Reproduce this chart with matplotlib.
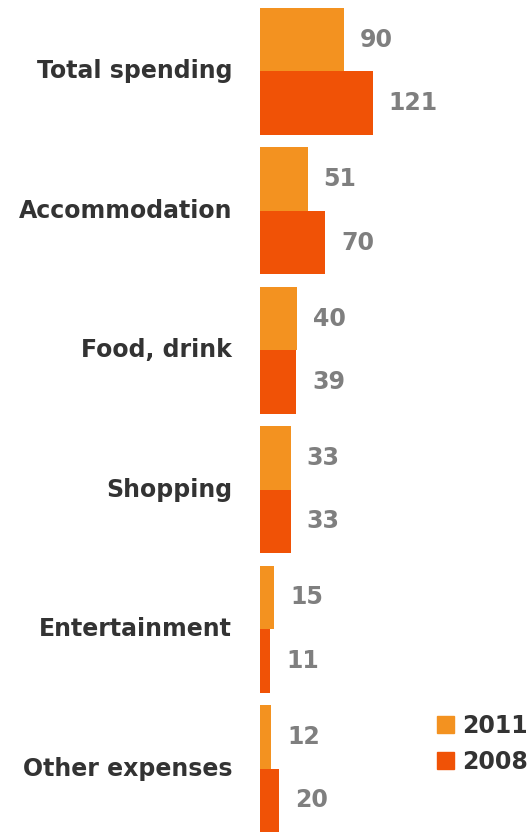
import matplotlib
matplotlib.use("Agg")
import matplotlib.pyplot as plt
from matplotlib.patches import Patch

categories = ["Total spending", "Accommodation", "Food, drink", "Shopping",
              "Entertainment", "Other expenses"]
values_2011 = [90, 51, 40, 33, 15, 12]
values_2008 = [121, 70, 39, 33, 11, 20]
series_labels = ["2011", "2008"]

color_2011 = "#F39220"
color_2008 = "#F05206"
text_dark = "#333333"
text_gray = "#7F7F7F"

W, H = 531, 832
fig = plt.figure(figsize=(W / 100, H / 100), dpi=100)
ax = fig.add_axes([260 / W, 0, 1 - 260 / W, 1])

h = 0.455
ypos = list(range(len(categories)))
y11 = [y - h / 2 for y in ypos]
y08 = [y + h / 2 for y in ypos]
ax.barh(y11, values_2011, height=h, color=color_2011, linewidth=0)
ax.barh(y08, values_2008, height=h, color=color_2008, linewidth=0)

ax.set_xlim(0, 271 / 0.933)
ax.set_ylim(len(categories) - 1 + h, -h - 8 / 139.6)
ax.axis("off")

fs = 17
for y, v in zip(y11, values_2011):
    ax.annotate(str(v), (v, y), xytext=(11.5, 0), textcoords="offset points",
                ha="left", va="center", fontsize=fs, fontweight="bold",
                color=text_gray)
for y, v in zip(y08, values_2008):
    ax.annotate(str(v), (v, y), xytext=(11.5, 0), textcoords="offset points",
                ha="left", va="center", fontsize=fs, fontweight="bold",
                color=text_gray)
for y, name in zip(ypos, categories):
    ax.annotate(name, (0, y), xytext=(-20, 0), textcoords="offset points",
                ha="right", va="center", fontsize=fs, fontweight="bold",
                color=text_dark)

handles = [Patch(color=color_2011), Patch(color=color_2008)]
leg = fig.legend(handles, series_labels, loc="lower right",
                 bbox_to_anchor=(1.021, 0.053), frameon=False,
                 handlelength=0.7, handleheight=0.7, handletextpad=0.35,
                 labelspacing=0.5, borderaxespad=0.2,
                 prop={"size": fs, "weight": "bold"})
for t in leg.get_texts():
    t.set_color(text_dark)

fig.savefig("out.png", dpi=100)
